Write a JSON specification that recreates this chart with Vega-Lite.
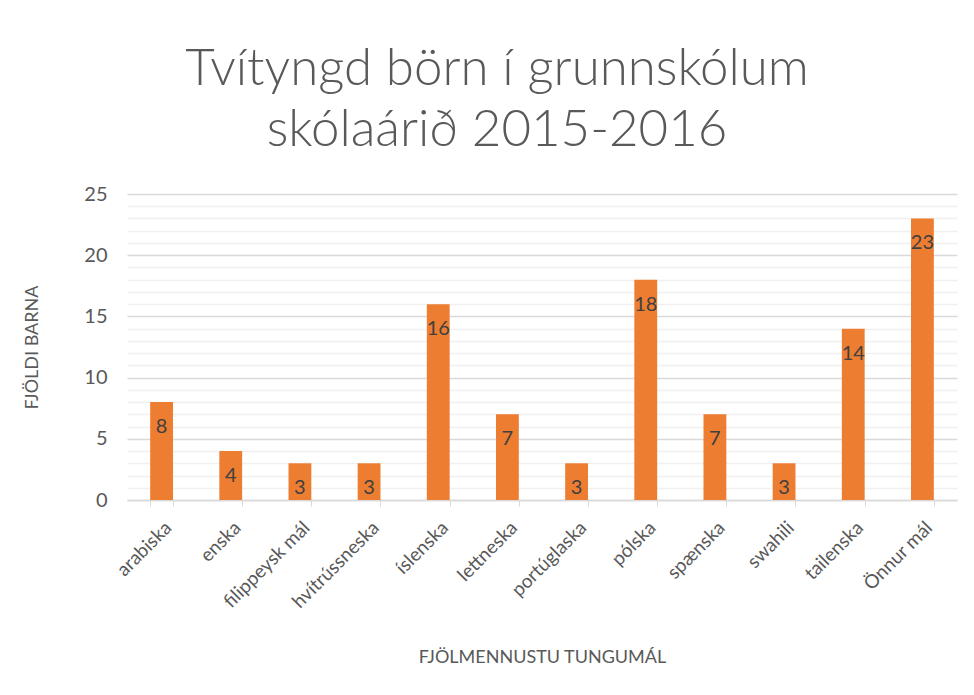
{
  "$schema": "https://vega.github.io/schema/vega-lite/v6.json",
  "autosize": {"type": "none"},
  "width": 830,
  "height": 306,
  "padding": {"left": 127, "right": 17, "top": 194, "bottom": 195},
  "background": "white",
  "title": {
    "text": ["Tvítyngd börn í grunnskólum", "skólaárið 2015-2016"],
    "font": "Lato",
    "fontWeight": 300,
    "fontSize": 51,
    "lineHeight": 61,
    "color": "#595959",
    "anchor": "middle",
    "dx": -45,
    "offset": 27
  },
  "config": {
    "view": {"stroke": null},
    "axis": {"labelFont": "Lato", "titleFont": "Lato", "labelColor": "#595959", "titleColor": "#595959"}
  },
  "data": {
    "values": [
      {"mal": "arabiska", "fjoldi": 8},
      {"mal": "enska", "fjoldi": 4},
      {"mal": "filippeysk mál", "fjoldi": 3},
      {"mal": "hvítrússneska", "fjoldi": 3},
      {"mal": "íslenska", "fjoldi": 16},
      {"mal": "lettneska", "fjoldi": 7},
      {"mal": "portúglaska", "fjoldi": 3},
      {"mal": "pólska", "fjoldi": 18},
      {"mal": "spænska", "fjoldi": 7},
      {"mal": "swahili", "fjoldi": 3},
      {"mal": "tailenska", "fjoldi": 14},
      {"mal": "Önnur mál", "fjoldi": 23}
    ]
  },
  "encoding": {
    "x": {
      "field": "mal",
      "type": "nominal",
      "sort": null,
      "scale": {"paddingInner": 0.67, "paddingOuter": 0.335},
      "axis": {
        "title": "FJÖLMENNUSTU TUNGUMÁL",
        "titleFontSize": 18,
        "titleFontWeight": "normal",
        "titlePadding": 37,
        "labelAngle": -45,
        "labelFontSize": 19,
        "labelPadding": 12,
        "tickBand": "extent",
        "tickColor": "#d9d9d9",
        "tickSize": 6,
        "domainColor": "#d9d9d9",
        "domainWidth": 1.5,
        "grid": false
      }
    },
    "y": {
      "field": "fjoldi",
      "type": "quantitative",
      "scale": {"domain": [0, 25], "nice": false},
      "axis": {
        "title": "FJÖLDI BARNA",
        "titleFontSize": 18,
        "titleFontWeight": "normal",
        "titlePadding": 42,
        "values": [0,1,2,3,4,5,6,7,8,9,10,11,12,13,14,15,16,17,18,19,20,21,22,23,24,25],
        "labelExpr": "datum.value % 5 === 0 ? datum.label : ''",
        "labelFontSize": 20,
        "labelPadding": 20,
        "ticks": false,
        "domain": false,
        "grid": true,
        "gridColor": {"condition": {"test": "datum.value % 5 === 0", "value": "#d9d9d9"}, "value": "#f0f0f0"},
        "gridWidth": 1.3
      }
    }
  },
  "layer": [
    {"mark": {"type": "bar", "color": "#ED7D31"}},
    {
      "mark": {"type": "text", "baseline": "top", "dy": 15, "fontSize": 20, "font": "Lato", "color": "#404040"},
      "encoding": {"text": {"field": "fjoldi", "type": "quantitative"}}
    }
  ]
}
